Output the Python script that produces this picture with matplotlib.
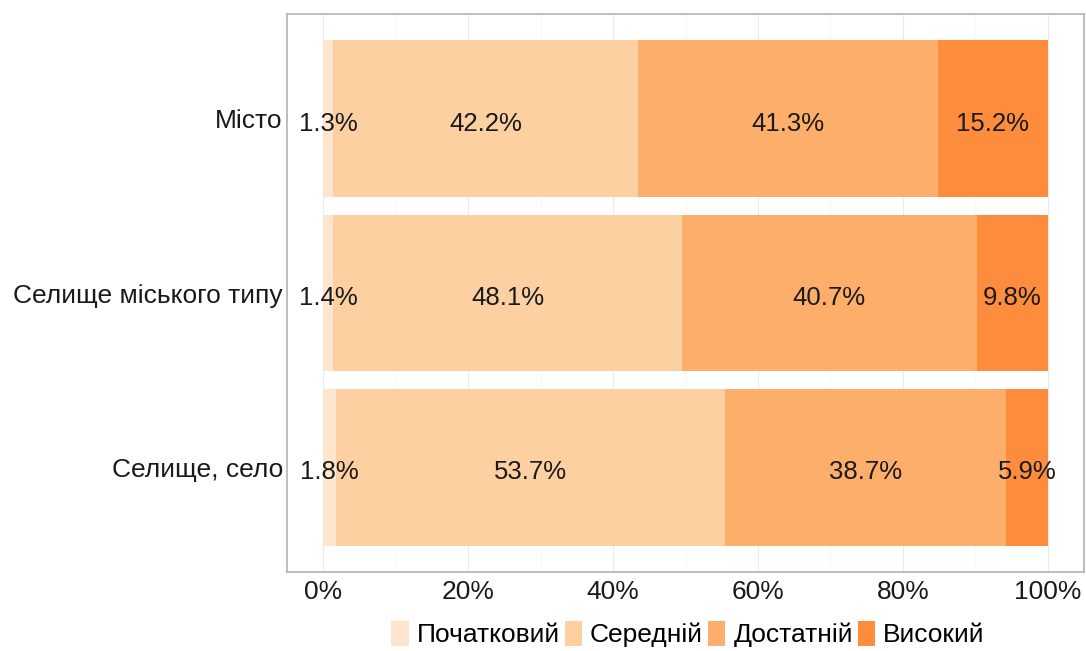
import numpy as np
import matplotlib.pyplot as plt
import matplotlib.transforms as mtransforms

plt.rcParams['font.family'] = ['Liberation Sans', 'DejaVu Sans']

categories = ["Селище, село", "Селище міського типу", "Місто"]
levels = ["Початковий", "Середній", "Достатній", "Високий"]
colors = ["#FEE6CE", "#FDD0A2", "#FDAE6B", "#FD8D3C"]
# shares per level, order matches categories
pochatkovyi = [1.8, 1.4, 1.3]
serednii = [53.7, 48.1, 42.2]
dostatnii = [38.7, 40.7, 41.3]
vysokyi = [5.9, 9.8, 15.2]

series = [pochatkovyi, serednii, dostatnii, vysokyi]

fig = plt.figure(figsize=(10.86, 6.51), dpi=100)
ax = fig.add_axes([287/1086, 1-572/651, (1084-287)/1086, (572-14)/651])

y = np.arange(1, len(categories) + 1)
left = np.zeros(len(categories))
for vals, lab, col in zip(series, levels, colors):
    v = np.array(vals) / 100
    ax.barh(y, v, left=left, height=0.9, color=col, label=lab, zorder=2)
    for yi, l, w, txt in zip(y, left, v, vals):
        ax.text(l + w/2, yi - 0.015, f"{txt}%", ha='center', va='center_baseline', fontsize=18.5, color='#1a1a1a', zorder=3)
    left = left + v

ax.set_xlim(-0.05, 1.05)
ax.set_ylim(0.4, 3.6)
ax.set_yticks(y)
ax.set_yticklabels(categories, fontsize=19)
shift = mtransforms.ScaledTranslation(0, -3/100, fig.dpi_scale_trans)
for t in ax.get_yticklabels():
    t.set_va('center_baseline')
    t.set_transform(t.get_transform() + shift)
ax.set_xticks(np.arange(0, 1.01, 0.2))
ax.set_xticklabels([f"{int(t*100)}%" for t in np.arange(0, 1.01, 0.2)], fontsize=19)
ax.set_xticks(np.arange(0.1, 1.0, 0.2), minor=True)
ax.tick_params(axis='y', length=0, colors='#1a1a1a', pad=3)
ax.tick_params(axis='x', length=0, colors='#1a1a1a', pad=6)
ax.tick_params(axis='x', which='minor', length=0)
ax.grid(axis='x', which='major', color='#ebebeb', linewidth=0.8, zorder=0)
ax.grid(axis='x', which='minor', color='#f5f5f5', linewidth=0.5, zorder=0)
for s in ax.spines.values():
    s.set_color('#b3b3b3')
    s.set_linewidth(1.2)

handles, labs = ax.get_legend_handles_labels()
fig.legend(handles, labs, loc='center', bbox_to_anchor=(688/1086, 1-634/651), ncol=4,
           frameon=False, fontsize=19, handlelength=0.65, handleheight=1.1,
           handletextpad=0.3, columnspacing=0.2)

fig.savefig("out.png", dpi=100)
